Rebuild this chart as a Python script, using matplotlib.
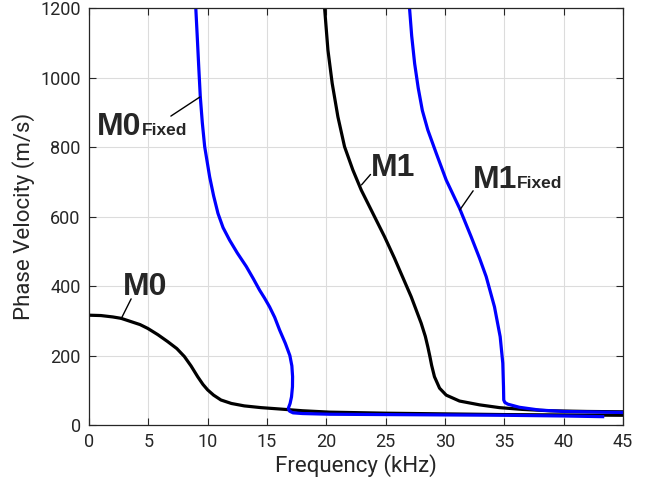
import matplotlib
matplotlib.use("Agg")
import matplotlib.pyplot as plt

# dispersion curves (frequency in kHz, phase velocity in m/s)
m0_f = [0, 1, 2, 2.7, 3.5, 4.3, 4.95, 5.8, 6.63, 7.4, 8.04, 8.6, 9.16, 9.6, 10.0, 10.5,
        11.12, 12, 13.09, 14.5, 16.1, 18, 20.3, 25, 30, 35, 40, 45]
m0_v = [316, 315, 311, 307, 298, 289, 278, 260, 240, 220, 197, 170, 139, 117, 101, 86,
        72, 62, 55, 50, 46, 41, 37, 34, 32, 30, 29, 28]

m0fix_f = [9.0, 9.12, 9.25, 9.38, 9.55, 9.75, 10.17, 10.5, 10.87, 11.3, 11.85, 12.5,
           13.26, 13.85, 14.38, 14.8, 15.22, 15.65, 16.07, 16.55, 16.93, 17.1, 17.16,
           17.15, 17.07, 16.95, 16.8, 16.9, 17.2, 18, 20.3, 25, 30, 35, 40, 43.3]
m0fix_v = [1200, 1120, 1030, 945, 870, 801, 714, 660, 609, 568, 532, 495,
           456, 421, 388, 365, 340, 310, 273, 235, 200, 170, 139,
           110, 81, 62, 48, 40, 35, 33, 31, 30, 29, 28, 26, 24]

m1_f = [19.86, 20.14, 20.5, 20.98, 21.54, 22.24, 22.95, 23.93, 24.91, 25.75, 26.18,
        27.16, 28.0, 28.35, 28.56, 28.73, 28.88, 29.12, 29.55, 30.11, 31.23, 32.92,
        34.6, 36.5, 38.8, 42, 45]
m1_v = [1199, 1079, 983, 887, 801, 734, 676, 609, 542, 480, 446,
        369, 293, 255, 225, 198, 172, 139, 106, 86, 69, 58,
        50, 45, 41, 39, 38]

m1fix_f = [27.02, 27.2, 27.45, 27.75, 28.1, 28.56, 29.27, 30.11, 31.23, 32.21, 32.92,
           33.48, 34.18, 34.66, 34.88, 34.94, 34.96, 35.05, 35.3, 36.28, 37.97, 40, 45]
m1fix_v = [1199, 1120, 1040, 970, 905, 849, 782, 705, 624, 542, 480,
           427, 340, 254, 178, 110, 72, 65, 60, 51, 43, 39, 36]

xticks = [0, 5, 10, 15, 20, 25, 30, 35, 40, 45]
yticks = [0, 200, 400, 600, 800, 1000, 1200]

txt_col = "#262626"
plt.rcParams["font.family"] = ["Roboto", "DejaVu Sans"]

fig = plt.figure(figsize=(6.57, 4.86), dpi=100)
ax = fig.add_axes([0.1355, 0.1255, 0.8125, 0.858])

ax.plot(m0_f, m0_v, color="black", lw=2.3)
ax.plot(m1_f, m1_v, color="black", lw=2.3)
ax.plot(m1fix_f, m1fix_v, color="#0000ff", lw=2.3)
ax.plot(m0fix_f, m0fix_v, color="#0000ff", lw=2.3)

ax.set_xlim(0, 45)
ax.set_ylim(0, 1200)
ax.set_xticks(xticks)
ax.set_yticks(yticks)
ax.grid(True, color="#dcdcdc", lw=0.8)
ax.set_axisbelow(True)
ax.tick_params(direction="in", length=5, top=True, right=True,
               labelsize=13, colors=txt_col, pad=6)
for s in ax.spines.values():
    s.set_color(txt_col)
    s.set_linewidth(0.9)

ax.set_xlabel("Frequency (kHz)", fontsize=16, color=txt_col, labelpad=2)
ax.set_ylabel("Phase Velocity (m/s)", fontsize=16, color=txt_col, labelpad=4)

lab = dict(fontsize=23, fontweight="bold", color=txt_col,
           family=["Liberation Sans", "DejaVu Sans"])
sub = dict(fontsize=12.5, fontweight="bold", color=txt_col,
           family=["Liberation Sans", "DejaVu Sans"])
lead = dict(arrowstyle="-", color="black", lw=1.0, shrinkA=0, shrinkB=0)

# M0
ax.annotate("", xy=(2.7, 305), xytext=(3.55, 363), arrowprops=lead)
ax.text(2.86, 374, "M0", ha="left", va="baseline", **lab)

# M0 fixed
ax.annotate("", xy=(9.35, 944), xytext=(6.9, 889), arrowprops=lead)
t1 = ax.text(0.67, 835, "M0", ha="left", va="baseline", **lab)
ax.annotate("Fixed", xy=(1.0, 0.0), xycoords=t1, xytext=(0, 3),
            textcoords="offset points", ha="left", va="bottom", **sub)

# M1
ax.annotate("", xy=(22.97, 691), xytext=(23.73, 721), arrowprops=lead)
ax.text(23.76, 717, "M1", ha="left", va="baseline", **lab)

# M1 fixed
ax.annotate("", xy=(31.26, 619), xytext=(32.38, 674), arrowprops=lead)
t2 = ax.text(32.35, 682, "M1", ha="left", va="baseline", **lab)
ax.annotate("Fixed", xy=(1.0, 0.0), xycoords=t2, xytext=(0, 3),
            textcoords="offset points", ha="left", va="bottom", **sub)

fig.savefig("out.png", dpi=100)
